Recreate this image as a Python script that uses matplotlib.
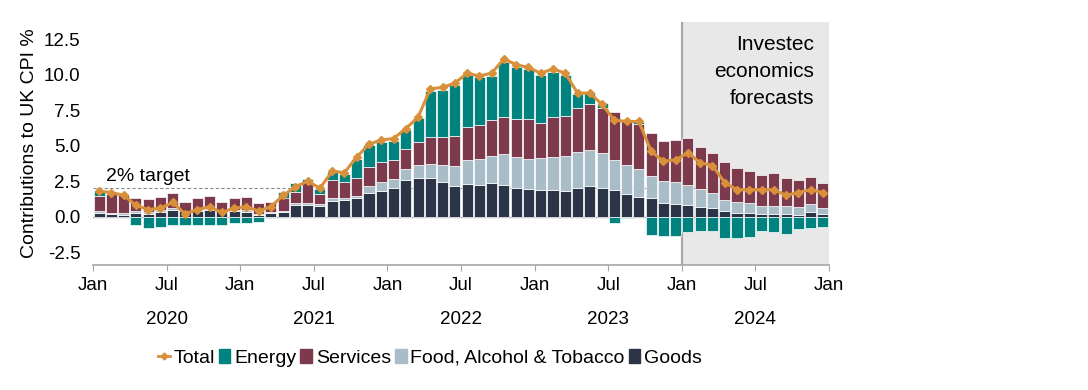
import matplotlib
matplotlib.use("Agg")
import matplotlib.pyplot as plt
import matplotlib.transforms as mtransforms
from matplotlib.lines import Line2D
from matplotlib.patches import Patch
import numpy as np

plt.rcParams["font.family"] = ["Liberation Sans", "DejaVu Sans"]

# monthly data, Jan 2020 .. Dec 2024 (2024 = forecast)
goods = [
    0.23, 0.18, 0.14, 0.23, 0.19, 0.30, 0.47, 0.37, 0.42, 0.47, 0.37, 0.37,
    0.30, 0.10, 0.25, 0.30, 0.84, 0.82, 0.77, 1.12, 1.17, 1.28, 1.65, 1.82,
    2.05, 2.56, 2.70, 2.75, 2.47, 2.18, 2.28, 2.24, 2.35, 2.24, 2.05, 1.93,
    1.89, 1.89, 1.84, 2.05, 2.14, 2.00, 1.86, 1.59, 1.42, 1.28, 0.96, 0.89,
    0.80, 0.70, 0.61, 0.40, 0.26, 0.23, 0.19, 0.19, 0.16, 0.12, 0.30, 0.19,
]
food = [
    0.14, 0.10, 0.12, 0.14, 0.12, 0.20, 0.14, 0.05, 0.05, 0.07, 0.05, 0.10,
    0.15, 0.10, 0.05, 0.12, 0.12, 0.11, 0.12, 0.17, 0.18, 0.19, 0.52, 0.63,
    0.58, 0.82, 0.91, 0.98, 1.17, 1.40, 1.68, 1.84, 1.92, 2.14, 2.15, 2.10,
    2.21, 2.31, 2.43, 2.52, 2.52, 2.45, 2.10, 2.02, 1.96, 1.59, 1.56, 1.56,
    1.41, 1.23, 1.09, 0.79, 0.79, 0.73, 0.58, 0.58, 0.60, 0.54, 0.58, 0.42,
]
services = [
    1.10, 1.30, 1.28, 0.98, 0.93, 0.85, 1.04, 0.58, 0.81, 0.93, 0.63, 0.83,
    0.97, 0.76, 0.75, 0.93, 0.79, 1.54, 0.69, 1.28, 1.12, 1.28, 1.35, 1.40,
    1.33, 1.40, 1.68, 1.89, 1.98, 2.10, 2.36, 2.40, 2.56, 2.64, 2.68, 2.87,
    2.50, 2.79, 2.83, 3.08, 3.27, 3.20, 3.38, 3.20, 3.17, 3.03, 2.84, 2.98,
    3.30, 2.97, 2.80, 2.66, 2.35, 2.28, 2.17, 2.28, 1.99, 1.93, 1.94, 1.74,
]
energy = [
    0.35, 0.10, 0.00, -0.56, -0.79, -0.70, -0.56, -0.56, -0.56, -0.56, -0.56, -0.45,
    -0.45, -0.40, -0.10, 0.42, 0.60, 0.21, 0.40, 0.55, 0.56, 1.33, 1.51, 1.42,
    1.35, 1.35, 1.66, 3.19, 3.31, 3.62, 3.66, 3.33, 3.10, 3.88, 3.68, 3.50,
    3.38, 3.21, 2.90, 0.97, 0.81, 0.35, -0.47, -0.10, 0.10, -1.28, -1.38, -1.33,
    -1.10, -1.00, -1.00, -1.50, -1.50, -1.40, -1.00, -1.10, -1.20, -0.90, -0.80, -0.70,
]
total = [
    1.8, 1.7, 1.5, 0.8, 0.5, 0.6, 1.0, 0.2, 0.5, 0.7, 0.3, 0.6,
    0.7, 0.4, 0.7, 1.5, 2.1, 2.5, 2.0, 3.2, 3.1, 4.2, 5.1, 5.4,
    5.5, 6.2, 7.0, 9.0, 9.1, 9.4, 10.1, 9.9, 10.1, 11.1, 10.7, 10.5,
    10.1, 10.4, 10.1, 8.7, 8.7, 7.9, 6.8, 6.7, 6.7, 4.6, 3.9, 4.0,
    4.5, 3.8, 3.6, 2.4, 1.9, 1.9, 1.9, 1.9, 1.5, 1.7, 1.9, 1.7,
]
years = ["2020", "2021", "2022", "2023", "2024"]
month_labels = ["Jan", "Jul"]
forecast_start = 48  # Jan 2024

colors = {
    "Goods": "#2c3548",
    "Food, Alcohol & Tobacco": "#a8bdc7",
    "Services": "#7d3a4c",
    "Energy": "#00827f",
    "Total": "#d8913a",
}

fig = plt.figure(figsize=(10.88, 3.9), dpi=100)
ax = fig.add_axes([93 / 1088, 1 - 265 / 390, 736 / 1088, 243 / 390])

x = np.arange(len(total)) + 0.5
pos_bottom = np.zeros(len(total))
neg_bottom = np.zeros(len(total))
for name, vals in [("Goods", goods), ("Food, Alcohol & Tobacco", food),
                   ("Services", services), ("Energy", energy)]:
    v = np.array(vals)
    bottom = np.where(v >= 0, pos_bottom, neg_bottom)
    ax.bar(x, v, bottom=bottom, width=0.9, color=colors[name],
           edgecolor="white", linewidth=0.5, zorder=3)
    pos_bottom += np.clip(v, 0, None)
    neg_bottom += np.clip(v, None, 0)

ax.plot(x, total, color=colors["Total"], lw=2.2, marker="D", ms=4, zorder=5)

# forecast shading
ax.axvspan(forecast_start, len(total), color="#e8e8e8", zorder=0, lw=0)
ax.axvline(forecast_start, color="#a6a6a6", lw=1.5, zorder=1)
ax.text(58.8, 12.8, "Investec\neconomics\nforecasts", ha="right", va="top",
        fontsize=15, linespacing=1.55, zorder=6)

# 2% target and zero line
ax.axhline(2.0, color="#8c8c8c", lw=0.8, ls=(0, (3, 2)), zorder=2)
ax.axhline(0.0, color="#a6a6a6", lw=1, zorder=2)
ax.text(1.1, 2.2, "2% target", ha="left", va="bottom", fontsize=14)

ax.set_xlim(0, len(total))
ax.set_ylim(-3.4, 13.7)
ax.set_yticks([-2.5, 0, 2.5, 5, 7.5, 10, 12.5])
ax.set_yticklabels(["-2.5", "0.0", "2.5", "5.0", "7.5", "10.0", "12.5"])
ax.tick_params(axis="y", length=0, pad=9, labelsize=13.5)

ticks = np.arange(0, len(total) + 1, 6)
ax.set_xticks(ticks)
ax.set_xticklabels([month_labels[(t // 6) % 2] for t in ticks])
ax.tick_params(axis="x", length=4, color="#a6a6a6", pad=5, labelsize=13.5)

trans = mtransforms.blended_transform_factory(ax.transData, fig.transFigure)
for i, yr in enumerate(years):
    ax.text(6 + 12 * i, 1 - 320 / 390, yr, transform=trans, ha="center",
            va="center", fontsize=13.5)

for side in ["top", "right", "left"]:
    ax.spines[side].set_visible(False)
ax.spines["bottom"].set_color("#a6a6a6")
ax.spines["bottom"].set_linewidth(1.2)

ax.set_ylabel("Contributions to UK CPI %", fontsize=14)
ax.yaxis.set_label_coords(-55 / 736, 0.5)

handles = [
    Line2D([0], [0], color=colors["Total"], lw=2, marker="D", ms=3.5),
    Patch(color=colors["Energy"]),
    Patch(color=colors["Services"]),
    Patch(color=colors["Food, Alcohol & Tobacco"]),
    Patch(color=colors["Goods"]),
]
labels = ["Total", "Energy", "Services", "Food, Alcohol & Tobacco", "Goods"]
fig.legend(handles, labels, loc="center", bbox_to_anchor=(430 / 1088, 1 - 358 / 390),
           ncol=5, frameon=False, fontsize=14, handlelength=0.6,
           handleheight=0.7, handletextpad=0.2, columnspacing=0.2)

fig.savefig("out.png", dpi=100)
